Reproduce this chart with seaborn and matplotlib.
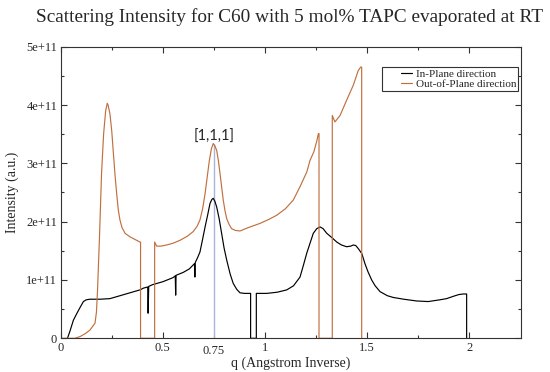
import numpy as np
import pandas as pd
import matplotlib
matplotlib.use("Agg")
import matplotlib.pyplot as plt
import seaborn as sns

# out-of-plane scan (q in 1/A, intensity in units of 1e11)
q_oop = [0.0, 0.07, 0.095, 0.12, 0.143, 0.168, 0.175, 0.18, 0.19, 0.2,
         0.21, 0.22, 0.228, 0.232, 0.241, 0.25, 0.258, 0.266, 0.274, 0.282,
         0.29, 0.3, 0.315, 0.339, 0.372, 0.388, 0.391, 0.391, 0.46, 0.46,
         0.47, 0.49, 0.519, 0.55, 0.584, 0.62, 0.649, 0.668, 0.682, 0.695,
         0.707, 0.718, 0.728, 0.738, 0.747, 0.755, 0.764, 0.772, 0.78, 0.788,
         0.796, 0.805, 0.813, 0.825, 0.837, 0.855, 0.878, 0.92, 0.976, 1.02,
         1.058, 1.1, 1.139, 1.172, 1.205, 1.221, 1.24, 1.254, 1.262, 1.265,
         1.265, 1.33, 1.33, 1.343, 1.368, 1.40, 1.433, 1.457, 1.469, 1.474,
         1.474]
i_oop = [0, 0, 0.03, 0.08, 0.14, 0.26, 0.45, 0.8, 1.75, 2.83,
         3.5, 3.9, 4.03, 4.0, 3.85, 3.55, 3.17, 2.8, 2.48, 2.2,
         2.03, 1.9, 1.80, 1.74, 1.68, 1.65, 1.65, 0, 0, 1.65,
         1.58, 1.58, 1.6, 1.63, 1.68, 1.75, 1.83, 1.92, 2.03, 2.22,
         2.48, 2.78, 3.05, 3.25, 3.34, 3.3, 3.22, 3.05, 2.83, 2.6,
         2.37, 2.18, 2.05, 1.95, 1.88, 1.85, 1.84, 1.9, 1.97, 2.04,
         2.11, 2.22, 2.37, 2.6, 2.85, 3.05, 3.2, 3.38, 3.51, 3.51,
         0, 0, 3.82, 3.71, 3.82, 4.08, 4.34, 4.59, 4.65, 4.65,
         0]

# in-plane scan
q_ip = [0.033, 0.045, 0.062, 0.078, 0.095, 0.111, 0.125, 0.143, 0.192, 0.241,
        0.3, 0.339, 0.388, 0.405, 0.426, 0.428, 0.431, 0.45, 0.5, 0.55,
        0.561, 0.563, 0.565, 0.6, 0.63, 0.655, 0.657, 0.659, 0.67, 0.682,
        0.695, 0.707, 0.72, 0.731, 0.74, 0.747, 0.755, 0.764, 0.776, 0.788,
        0.8, 0.813, 0.83, 0.845, 0.862, 0.878, 0.9, 0.927, 0.93, 0.93,
        0.958, 0.958, 0.98, 1.009, 1.06, 1.107, 1.14, 1.172, 1.19, 1.205,
        1.221, 1.237, 1.254, 1.27, 1.285, 1.303, 1.33, 1.352, 1.375, 1.40,
        1.42, 1.433, 1.445, 1.457, 1.475, 1.49, 1.505, 1.523, 1.54, 1.564,
        1.6, 1.629, 1.68, 1.743, 1.8, 1.857, 1.89, 1.923, 1.95, 1.972,
        1.988, 1.988]
i_ip = [0, 0.12, 0.31, 0.42, 0.53, 0.63, 0.66, 0.67, 0.67, 0.68,
        0.74, 0.78, 0.83, 0.86, 0.88, 0.43, 0.89, 0.92, 0.97, 1.04,
        1.07, 0.74, 1.08, 1.13, 1.19, 1.28, 1.05, 1.3, 1.38, 1.48,
        1.7, 1.91, 2.12, 2.31, 2.38, 2.40, 2.35, 2.25, 2.05, 1.80,
        1.55, 1.34, 1.1, 0.94, 0.84, 0.78, 0.77, 0.77, 0.77, 0,
        0, 0.77, 0.77, 0.77, 0.79, 0.83, 0.9, 1.05, 1.27, 1.46,
        1.63, 1.80, 1.88, 1.91, 1.88, 1.80, 1.72, 1.65, 1.6, 1.57,
        1.58, 1.60, 1.59, 1.54, 1.45, 1.28, 1.14, 1.0, 0.9, 0.80,
        0.73, 0.70, 0.67, 0.64, 0.63, 0.66, 0.68, 0.72, 0.75, 0.76,
        0.76, 0]

# [1,1,1] marker line
peak_q = 0.75
peak_top = 3.34

scale = 1e11
oop = pd.DataFrame({'q': q_oop, 'I': np.array(i_oop) * scale})
ip = pd.DataFrame({'q': q_ip, 'I': np.array(i_ip) * scale})

sns.set_theme(style='ticks')
plt.rcParams['font.family'] = ['Liberation Serif', 'DejaVu Serif']

fig = plt.figure(figsize=(5.5, 3.72), dpi=100)
ax = fig.add_axes([0.1104, 0.0906, 0.8364, 0.7839])

ax.vlines(peak_q, 0, peak_top * scale, color='#a9b6d9', lw=1.0, zorder=1)
sns.lineplot(data=ip, x='q', y='I', sort=False, estimator=None, color='black',
             lw=0.85, label='In-Plane direction', ax=ax)
sns.lineplot(data=oop, x='q', y='I', sort=False, estimator=None, color='#c0703f',
             lw=0.85, label='Out-of-Plane direction', ax=ax)

ax.set_xlim(0, 2.253)
ax.set_ylim(0, 5e11)
ax.set_xticks([0, 0.5, 1, 1.5, 2], ['0', '0.5', '1', '1.5', '2'])
ax.set_xticks([0.25, 0.75, 1.25, 1.75], minor=True)
ax.set_yticks(np.arange(6) * scale, ['0', '1e+11', '2e+11', '3e+11', '4e+11', '5e+11'])
ax.set_yticks((np.arange(5) + 0.5) * scale, minor=True)
ax.tick_params(which='both', direction='in', top=True, right=True, labelsize=9,
               color='#333333', width=0.8)
ax.tick_params(which='major', length=4.5)
ax.tick_params(which='minor', length=2.3)
ax.tick_params(axis='y', pad=2.5)
ax.tick_params(axis='x', pad=3)
for sp in ax.spines.values():
    sp.set_linewidth(0.8)
    sp.set_color('#333333')

ax.text(peak_q, -0.023, '0.75', transform=ax.get_xaxis_transform(),
        ha='center', va='top', fontsize=9)
ax.text(peak_q, 3.45 * scale, '[1,1,1]', ha='center', va='center', fontsize=10.5,
        family=['Lato', 'DejaVu Sans'])

ax.set_xlabel('q (Angstrom Inverse)', fontsize=10)
ax.set_ylabel('Intensity (a.u.)', fontsize=10)
ax.xaxis.set_label_coords(0.5, -0.062)
ax.yaxis.set_label_coords(-0.09, 0.5)

leg = ax.legend(loc='upper left', bbox_to_anchor=(0.698, 0.930), fontsize=8,
                frameon=True, fancybox=False, edgecolor='#333333', framealpha=1,
                borderpad=0.2, labelspacing=0.0, handlelength=2.5,
                handletextpad=0.35, borderaxespad=0)
leg.get_frame().set_linewidth(0.8)
for ln in leg.get_lines():
    xd = np.asarray(ln.get_xdata(), dtype=float)
    x0, x1 = xd[0], xd[-1]
    ln.set_xdata([x0 + (x1 - x0) * 0.62, x1])
    ln.set_ydata([np.asarray(ln.get_ydata())[0]] * 2)

fig.text(0.527, 0.955, 'Scattering Intensity for C60 with 5 mol% TAPC evaporated at RT',
         ha='center', va='center', fontsize=13.85)

fig.savefig('out.png', dpi=100)
